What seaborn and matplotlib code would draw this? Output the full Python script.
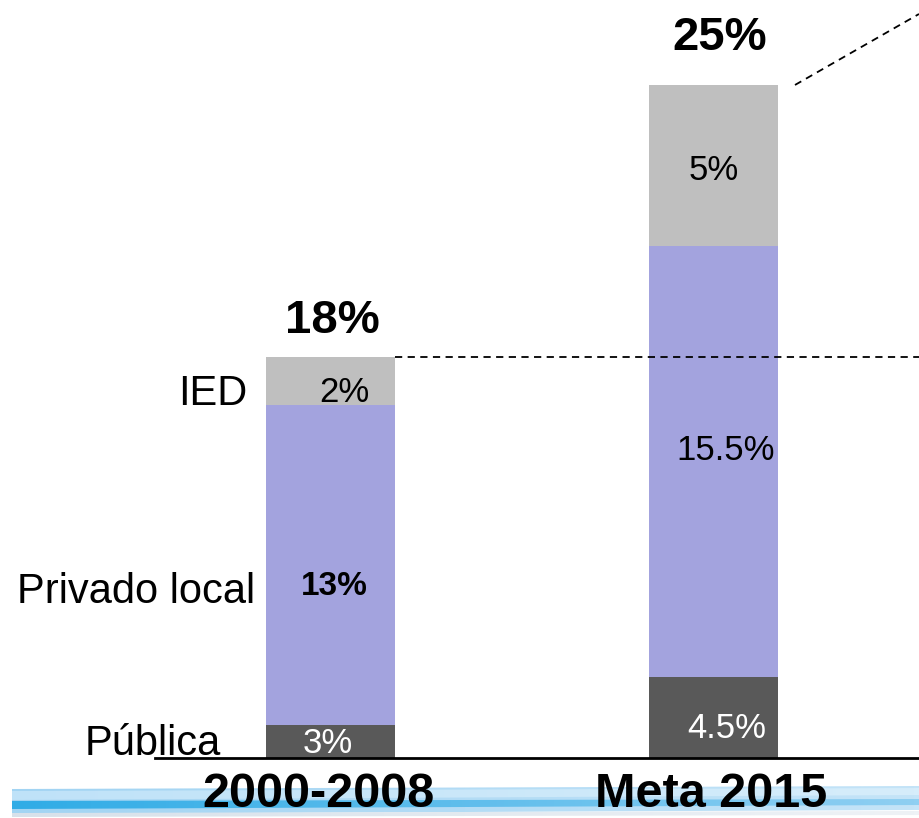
import numpy as np
import seaborn as sns
import matplotlib.pyplot as plt
from matplotlib.colors import LinearSegmentedColormap
from matplotlib.patches import Polygon

# Datos del gráfico
periodos = ["2000-2008", "Meta 2015"]
componentes = ["Pública", "Privado local", "IED"]
etiquetas_publica = ["3%", "4.5%"]
etiquetas_privado = ["13%", "15.5%"]
etiquetas_ied = ["2%", "5%"]
totales = ["18%", "25%"]
# el original no está dibujado a escala: alturas medidas sobre la imagen
altura_publica = [1.23, 3.01]
altura_privado = [11.90, 16.02]
altura_ied = [1.78, 5.99]

colores = {"Pública": "#595959", "Privado local": "#A3A3DE", "IED": "#BFBFBF"}

sns.set_style("white")
plt.rcParams['font.family'] = ['Liberation Sans', 'DejaVu Sans']
plt.rcParams['text.color'] = 'black'

W, H = 919, 818
fig = plt.figure(figsize=(W / 100, H / 100), dpi=100)


def fx(px):
    return px / W


def fy(py):
    return 1 - py / H


# fondo: franja azul decorativa de la diapositiva
ax_bg = fig.add_axes([0, 0, 1, 1], zorder=0)
ax_bg.set_xlim(0, W)
ax_bg.set_ylim(H, 0)
ax_bg.axis("off")
xs = np.linspace(12, W, 120)
t = (xs - 12) / (W - 12)


def franja(top, bot, c_izq, c_der):
    verts = np.vstack([np.column_stack([xs, top]), np.column_stack([xs[::-1], bot[::-1]])])
    poly = Polygon(verts, closed=True, facecolor="none", edgecolor="none")
    ax_bg.add_patch(poly)
    cmap = LinearSegmentedColormap.from_list("f", [c_izq, c_der])
    grad = np.linspace(0, 1, 256).reshape(1, -1)
    im = ax_bg.imshow(grad, cmap=cmap, extent=[12, W, bot.max() + 1, top.min() - 1],
                      aspect="auto", interpolation="bilinear")
    im.set_clip_path(poly)


franja(789 - 3 * t, 814 - 4 * t, "#a2d4f3", "#c4e4f8")
franja(791 - 3 * t, 800 - 5 * t, "#bfe2f8", "#d6edfb")
franja(801 - 2 * t, 809 - 4 * t, "#30ace6", "#8fcff2")
franja(813 - 2 * t, 817 - 2 * t, "#d8e1ea", "#eef2f6")
ax_bg.set_xlim(0, W)
ax_bg.set_ylim(H, 0)

# ejes principales
escala = 26.9  # px por unidad
ax = fig.add_axes([155 / W, (H - 758) / H, 764 / W, 758 / H], zorder=1)
ax.patch.set_alpha(0)

base = np.zeros(2)
for comp, alt in zip(componentes, [altura_publica, altura_privado, altura_ied]):
    sns.barplot(x=periodos, y=alt, bottom=base.copy(), color=colores[comp],
                width=0.336, saturation=1, linewidth=0, ax=ax)
    base += np.array(alt)

ax.set_xlim(-0.456, 1.534)
ax.set_ylim(0, 758 / escala)
ax.set_xticks([])
ax.set_yticks([])
ax.set_xlabel("")
ax.set_ylabel("")
for s in ["top", "left", "right"]:
    ax.spines[s].set_visible(False)
ax.spines["bottom"].set_linewidth(2)
ax.spines["bottom"].set_color("black")

# líneas punteadas
ax.plot([0.168, 1.534], [base[0], base[0]], color="black", lw=1.3,
        ls=(0, (4, 3)), clip_on=False)
ax.plot([1.211, 1.534], [base[1], (758 - 14) / escala], color="black", lw=1.3,
        ls=(0, (4, 3)), clip_on=False)

# textos
fig.text(fx(247), fy(405), "IED", fontsize=30, ha="right", va="baseline")
fig.text(fx(255), fy(603), "Privado local", fontsize=30, ha="right", va="baseline")
fig.text(fx(221), fy(755), "Pública", fontsize=30, ha="right", va="baseline")

fig.text(fx(344), fy(402), etiquetas_ied[0], fontsize=25, ha="center", va="baseline")
fig.text(fx(334), fy(595), etiquetas_privado[0], fontsize=24, ha="center",
         va="baseline", fontweight="bold")
fig.text(fx(328), fy(753), etiquetas_publica[0], fontsize=25, ha="center",
         va="baseline", color="white")
fig.text(fx(714), fy(180), etiquetas_ied[1], fontsize=25, ha="center", va="baseline")
fig.text(fx(726), fy(460), etiquetas_privado[1], fontsize=25, ha="center", va="baseline")
fig.text(fx(727), fy(738), etiquetas_publica[1], fontsize=25, ha="center",
         va="baseline", color="white")

fig.text(fx(332), fy(333), totales[0], fontsize=34, ha="center", va="baseline",
         fontweight="bold")
fig.text(fx(720), fy(50), totales[1], fontsize=34, ha="center", va="baseline",
         fontweight="bold")

fig.text(fx(318), fy(807), periodos[0], fontsize=35, ha="center", va="baseline",
         fontweight="bold", zorder=5)
fig.text(fx(711), fy(807), periodos[1], fontsize=35, ha="center", va="baseline",
         fontweight="bold", zorder=5)

fig.savefig("out.png", dpi=100)
